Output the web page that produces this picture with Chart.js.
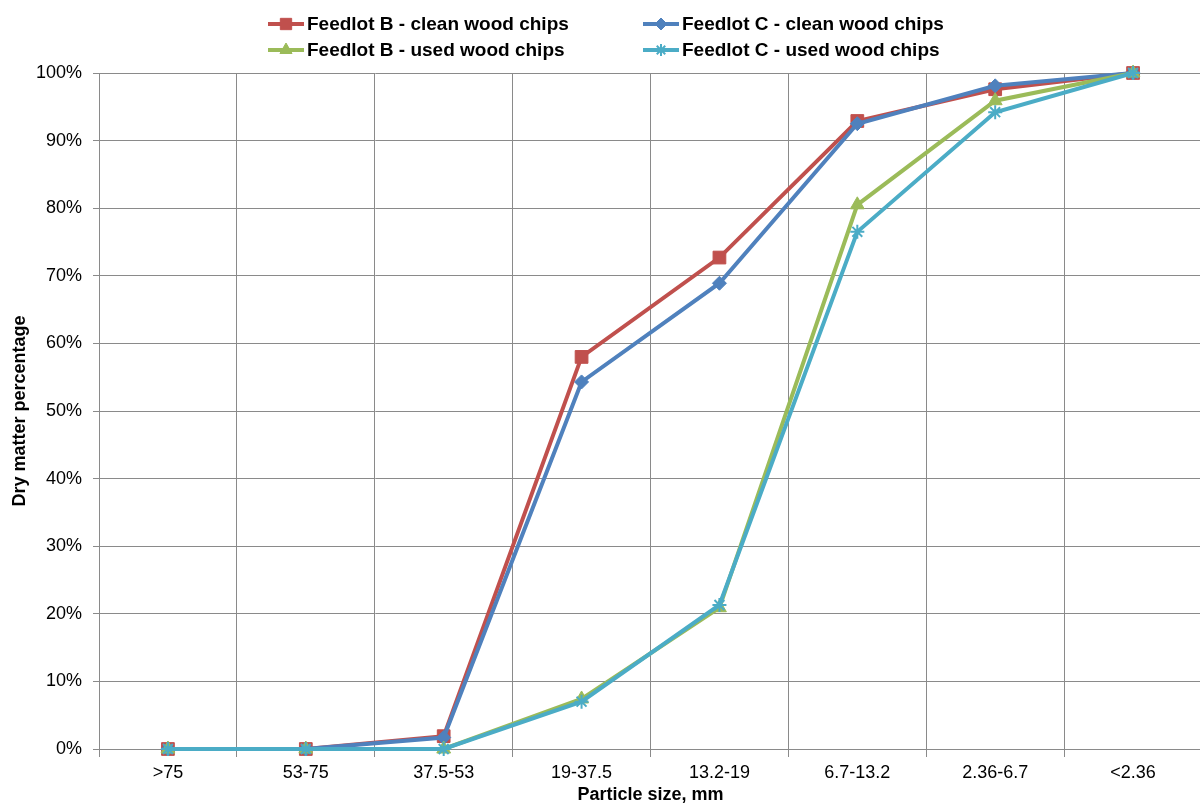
<!DOCTYPE html>
<html>
<head>
<meta charset="utf-8">
<script src="https://cdn.jsdelivr.net/npm/chart.js@4/dist/chart.umd.min.js"></script>
<style>
  body { margin: 0; background: #fff; overflow: hidden; }
  #wrap { width: 1212px; height: 806px; }
</style>
</head>
<body>
<div id="wrap"><canvas id="myChart" width="1212" height="806"></canvas></div>
<script>
// categories (particle size classes) and cumulative dry matter %
const sizes = ['>75', '53-75', '37.5-53', '19-37.5', '13.2-19', '6.7-13.2', '2.36-6.7', '<2.36'];
const feedlotBClean = [0, 0, 1.9, 58.0, 72.7, 92.9, 97.6, 100];
const feedlotCClean = [0, 0, 1.7, 54.3, 68.9, 92.5, 98.1, 100];
const feedlotBUsed = [0, 0, 0, 7.4, 20.9, 80.5, 95.9, 100];
const feedlotCUsed = [0, 0, 0, 7.0, 21.3, 76.5, 94.2, 100];
const seriesNames = ['Feedlot B - clean wood chips', 'Feedlot C - clean wood chips', 'Feedlot B - used wood chips', 'Feedlot C - used wood chips'];

const fontFamily = '"Liberation Sans", Arial, sans-serif';
const colors = ['#C0504D', '#4F81BD', '#9BBB59', '#4BACC6'];
const markers = ['rect', 'rectRot', 'triangle', 'star'];
const radii = [9, 7, 8, 7];

function makeSet(i, data, order) {
    return {
        label: seriesNames[i],
        data: data,
        borderColor: colors[i],
        backgroundColor: colors[i],
        pointBackgroundColor: colors[i],
        pointBorderColor: colors[i],
        pointStyle: markers[i],
        pointRadius: radii[i],
        pointBorderWidth: markers[i] == 'star' ? 2 : 1,
        borderWidth: 4,
        tension: 0,
        clip: false,
        order: order
    };
}

// legend in two rows like the original
const legendPlugin = {
    id: 'twoRowLegend',
    afterDraw(chart) {
        const ctx = chart.ctx;
        const spots = [[268, 24], [643, 24], [268, 50], [643, 50]];
        ctx.save();
        for (let i = 0; i < 4; i++) {
            const x = spots[i][0], y = spots[i][1];
            ctx.strokeStyle = colors[i];
            ctx.lineWidth = 4;
            ctx.beginPath();
            ctx.moveTo(x, y);
            ctx.lineTo(x + 36, y);
            ctx.stroke();
            ctx.fillStyle = colors[i];
            ctx.lineWidth = markers[i] == 'star' ? 2 : 1;
            Chart.helpers.drawPoint(ctx, { pointStyle: markers[i], radius: radii[i] - 1, rotation: 0, borderWidth: ctx.lineWidth }, x + 18, y);
            ctx.fillStyle = '#000';
            ctx.font = 'bold 19px ' + fontFamily;
            ctx.textBaseline = 'middle';
            ctx.textAlign = 'left';
            ctx.fillText(seriesNames[i], x + 39, y + 1);
        }
        ctx.restore();
    }
};

const ctx = document.getElementById('myChart').getContext('2d');
const myChart = new Chart(ctx, {
    type: 'line',
    data: {
        labels: sizes,
        datasets: [
            makeSet(0, feedlotBClean, 3),
            makeSet(1, feedlotCClean, 2),
            makeSet(2, feedlotBUsed, 1),
            makeSet(3, feedlotCUsed, 0)
        ]
    },
    options: {
        responsive: false,
        animation: false,
        layout: { padding: { top: 73, left: 0, right: 0, bottom: 0 } },
        plugins: {
            legend: { display: false },
            tooltip: { enabled: false }
        },
        scales: {
            x: {
                offset: true,
                grid: { offset: true, color: '#8a8a8a', tickLength: 8, drawTicks: true },
                border: { color: '#8a8a8a' },
                ticks: { color: '#000', font: { family: fontFamily, size: 18 }, padding: 5, maxRotation: 0 },
                title: { display: true, text: 'Particle size, mm', color: '#000', font: { family: fontFamily, size: 18, weight: 'bold' }, padding: 0 },
                afterFit(scale) { scale.height = 57; }
            },
            y: {
                min: 0,
                max: 100,
                grid: { color: '#8a8a8a', tickLength: 6 },
                border: { color: '#8a8a8a' },
                ticks: {
                    stepSize: 10,
                    color: '#000',
                    padding: 11,
                    font: { family: fontFamily, size: 18 },
                    callback: (v) => v + '%'
                },
                title: { display: true, text: 'Dry matter percentage', color: '#000', font: { family: fontFamily, size: 18, weight: 'bold' }, padding: { top: 9, bottom: 0 } },
                afterFit(scale) { scale.width = 99; }
            }
        }
    },
    plugins: [legendPlugin]
});
</script>
</body>
</html>
